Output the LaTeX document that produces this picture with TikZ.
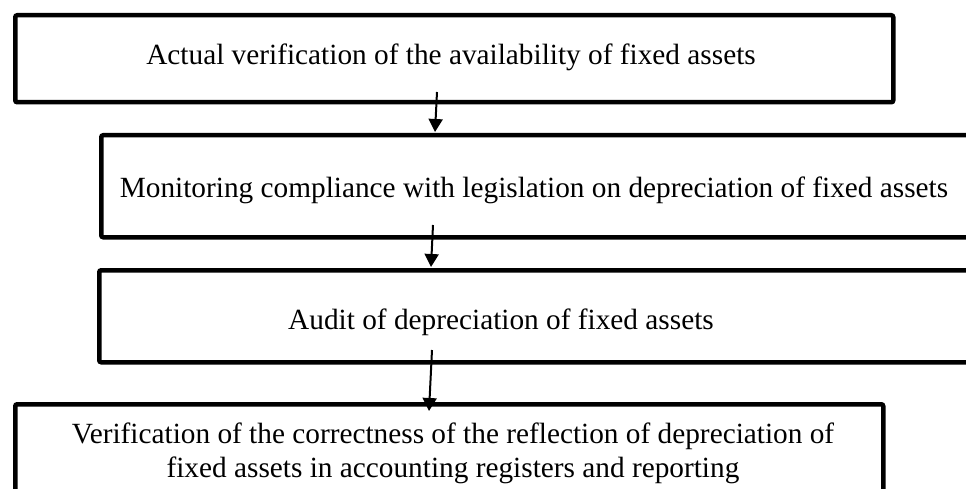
\documentclass[tikz,border=0pt]{standalone}
\usepackage{fontspec}
\setmainfont{Liberation Serif}
\usetikzlibrary{arrows.meta}
\begin{document}
\begin{tikzpicture}[x=1pt,y=-1pt,
  stepbox/.style={draw=black,line width=4.5pt,rounded corners=2pt,inner sep=0pt,anchor=north west},
  txt/.style={font=\fontsize{29.3}{34}\selectfont,align=center,inner sep=0pt},
  arr/.style={line width=2pt,-{Triangle[length=13pt,width=14pt]}}]
\useasboundingbox (0,0) rectangle (966,489);
\clip (0,0) rectangle (966,489);
\node[stepbox,minimum width=878pt,minimum height=87pt] (b1) at (13,13) {};
\node[stepbox,minimum width=900pt,minimum height=102pt] (b2) at (99,133) {};
\node[stepbox,minimum width=900pt,minimum height=92pt] (b3) at (97,268) {};
\node[stepbox,minimum width=868pt,minimum height=130pt] (b4) at (13,402) {};
\node[txt] (t1) at (451,57) {Actual verification of the availability of fixed assets};
\node[txt] (t2) at (534,190) {Monitoring compliance with legislation on depreciation of fixed assets};
\node[txt] (t3) at (501,322) {Audit of depreciation of fixed assets};
\node[txt] (t4) at (453,453) {Verification of the correctness of the reflection of depreciation of\\fixed assets in accounting registers and reporting};
\coordinate (a1s) at (437,92);
\coordinate (a1e) at (435,132);
\coordinate (a2s) at (433,225);
\coordinate (a2e) at (431,267);
\coordinate (a3s) at (432,350);
\coordinate (a3e) at (429,411);
\draw[arr] (a1s) -- (a1e);
\draw[arr] (a2s) -- (a2e);
\draw[arr] (a3s) -- (a3e);
\end{tikzpicture}
\end{document}
